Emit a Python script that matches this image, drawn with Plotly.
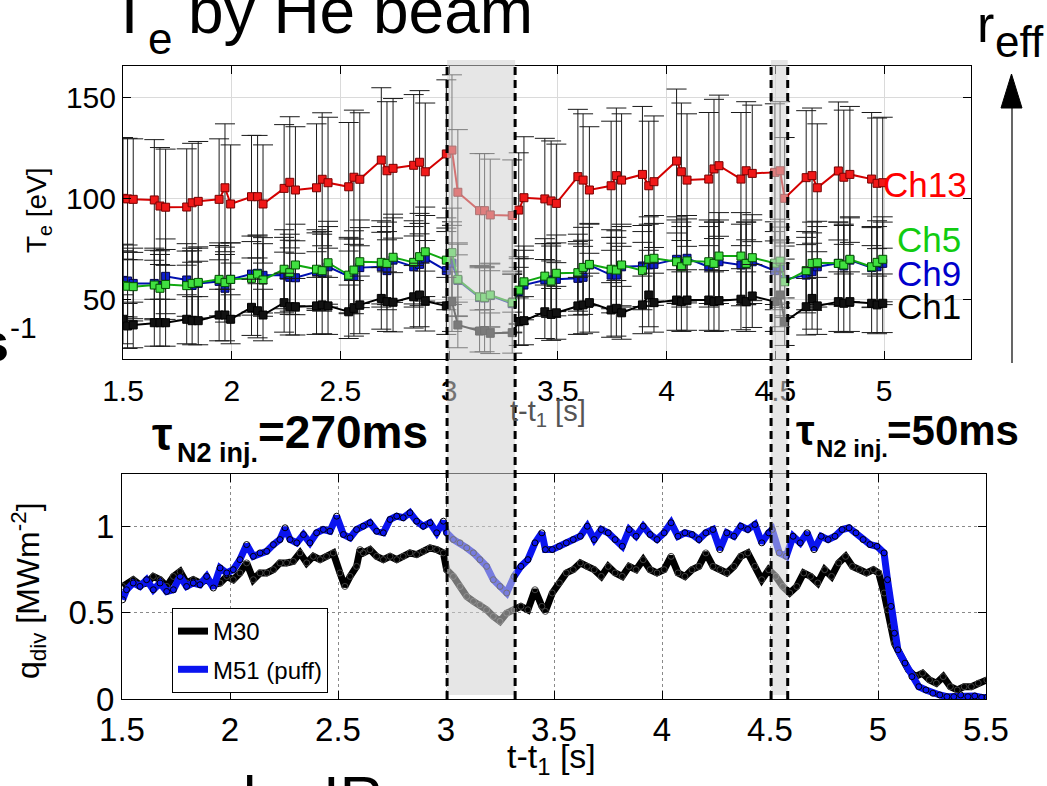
import plotly.graph_objects as go

W, H = 1047, 786


def PX(p):
    return p / W


def PY(p):
    return 1 - p / H


FONT = "Liberation Sans, Arial, Helvetica, sans-serif"

# ---------------- Top panel: Te by He beam ----------------
te_time = [1.500, 1.521, 1.547, 1.644, 1.670, 1.696, 1.793, 1.818, 1.846,
           1.942, 1.969, 1.995, 2.091, 2.119, 2.144, 2.241, 2.267, 2.293,
           2.390, 2.416, 2.443, 2.538, 2.562, 2.589, 2.688, 2.714, 2.742,
           2.837, 2.864, 2.890, 2.987, 3.013, 3.040, 3.140, 3.163, 3.189,
           3.290, 3.320, 3.344, 3.440, 3.469, 3.493, 3.592, 3.616, 3.645,
           3.745, 3.769, 3.793, 3.889, 3.918, 3.942, 4.046, 4.068, 4.094,
           4.194, 4.218, 4.241, 4.342, 4.366, 4.394, 4.498, 4.522, 4.543,
           4.642, 4.669, 4.693, 4.790, 4.815, 4.843, 4.943, 4.968, 4.994]

ch13 = [100.0, 99.7, 99.5, 99.2, 96.2, 95.6, 95.7, 97.8, 98.5,
        99.5, 105.2, 97.2, 100.8, 100.8, 97.2, 104.9, 107.9, 104.1,
        105.2, 109.4, 107.7, 105.7, 110.4, 109.4, 118.9, 113.6, 114.8,
        116.3, 117.8, 113.1, 121.9, 123.8, 103.0, 93.9, 93.9, 91.8,
        91.5, 94.2, 100.3, 99.7, 98.7, 97.5, 110.7, 109.0, 104.1,
        106.2, 111.2, 109.0, 111.8, 106.2, 108.2, 118.4, 113.1, 109.0,
        109.5, 114.5, 116.1, 109.5, 113.6, 112.3, 112.8, 113.6, 100.0,
        110.2, 111.2, 105.2, 113.5, 110.4, 111.8, 109.5, 107.4, 107.7]

ch5 = [57.0, 56.6, 56.4, 57.2, 55.6, 57.5, 56.9, 58.0, 58.5,
       60.0, 58.4, 60.0, 60.5, 62.6, 59.7, 65.0, 63.3, 67.1,
       65.0, 64.3, 68.2, 62.1, 64.6, 68.7, 68.4, 67.9, 70.9,
       68.4, 71.2, 73.6, 69.5, 73.2, 60.0, 51.4, 51.1, 52.3,
       48.5, 54.7, 58.8, 61.6, 58.8, 63.0, 63.3, 65.9, 67.4,
       65.0, 64.6, 67.1, 64.3, 69.9, 70.4, 68.7, 66.2, 69.1,
       68.7, 67.9, 71.5, 71.5, 67.9, 70.7, 68.0, 69.0, 58.8,
       64.3, 67.9, 68.2, 67.9, 67.1, 69.9, 66.2, 68.4, 69.9]

ch9 = [59.5, 59.2, 58.0, 58.0, 57.0, 61.5, 59.7, 57.0, 58.0,
       59.0, 55.6, 60.0, 62.6, 63.0, 62.0, 62.1, 61.0, 60.8,
       63.8, 63.3, 66.2, 61.5, 61.5, 65.8, 66.2, 64.3, 69.5,
       66.2, 67.4, 70.4, 64.3, 68.0, 59.5, 51.0, 50.8, 52.0,
       48.0, 54.0, 57.2, 59.7, 59.7, 60.0, 60.5, 61.0, 67.1,
       62.1, 62.1, 66.2, 66.6, 67.1, 67.4, 69.9, 67.9, 70.4,
       66.2, 67.9, 68.7, 67.1, 67.9, 68.7, 64.3, 66.0, 60.0,
       62.1, 63.8, 66.2, 67.9, 66.6, 69.5, 65.8, 66.2, 67.9]

ch1 = [40.3, 37.0, 37.5, 38.6, 38.6, 38.6, 40.3, 39.6, 39.6,
       42.4, 42.4, 40.3, 46.2, 44.5, 42.4, 48.5, 46.5, 46.5,
       46.9, 47.4, 46.9, 44.0, 45.7, 47.4, 50.6, 49.0, 48.7,
       51.4, 52.3, 49.3, 46.9, 49.0, 37.5, 34.5, 34.7, 33.4,
       33.7, 39.1, 39.6, 44.0, 42.7, 43.5, 46.9, 47.4, 48.5,
       44.9, 45.7, 43.5, 47.4, 52.3, 48.5, 49.8, 49.0, 49.8,
       49.8, 49.0, 49.5, 50.2, 49.0, 51.8, 49.0, 52.3, 39.1,
       46.5, 50.6, 46.9, 49.0, 48.2, 49.0, 48.2, 47.4, 48.2]

te_err_percent = 30  # relative uncertainty of He-beam Te

channel_names = ["Ch13", "Ch9", "Ch5", "Ch1"]
te_ticks = [50, 100, 150]
t_ticks_top = [1.5, 2, 2.5, 3, 3.5, 4, 4.5, 5]

# ---------------- Bottom panel: divertor heat flux ----------------
q_time_m51 = [1.503, 1.521, 1.552, 1.583, 1.614, 1.645, 1.676, 1.707, 1.738, 1.769,
              1.799, 1.830, 1.861, 1.892, 1.923, 1.954, 1.985, 2.015, 2.046, 2.077,
              2.108, 2.139, 2.170, 2.201, 2.231, 2.255, 2.278, 2.309, 2.340, 2.370,
              2.401, 2.432, 2.463, 2.494, 2.525, 2.556, 2.586, 2.617, 2.648, 2.679,
              2.710, 2.741, 2.772, 2.802, 2.833, 2.864, 2.895, 2.926, 2.957, 2.988,
              3.003, 3.034, 3.065, 3.096, 3.127, 3.157, 3.188, 3.219, 3.250, 3.281,
              3.315, 3.347, 3.379, 3.412, 3.444, 3.460, 3.492, 3.525, 3.557, 3.589,
              3.622, 3.654, 3.686, 3.719, 3.751, 3.783, 3.816, 3.848, 3.880, 3.913,
              3.945, 3.977, 4.010, 4.042, 4.074, 4.106, 4.139, 4.171, 4.203, 4.236,
              4.268, 4.300, 4.333, 4.365, 4.397, 4.430, 4.462, 4.494, 4.510, 4.543,
              4.575, 4.607, 4.640, 4.672, 4.704, 4.737, 4.769, 4.801, 4.834, 4.866,
              4.898, 4.931, 4.963, 4.995, 5.028, 5.044, 5.060, 5.076, 5.092, 5.125,
              5.157, 5.189, 5.222, 5.254, 5.286, 5.319, 5.351, 5.383, 5.416, 5.448,
              5.480, 5.504]
q_m51 = [0.575, 0.633, 0.672, 0.652, 0.691, 0.633, 0.672, 0.623, 0.633, 0.710,
         0.652, 0.672, 0.662, 0.710, 0.643, 0.759, 0.730, 0.749, 0.807, 0.894,
         0.826, 0.846, 0.855, 0.894, 0.923, 0.991, 0.923, 0.904, 0.952, 0.904,
         0.962, 0.981, 0.971, 1.058, 0.952, 0.933, 0.981, 1.000, 1.020, 0.971,
         0.962, 1.039, 1.058, 1.049, 1.078, 1.029, 1.000, 1.020, 0.962, 1.029,
         0.962, 0.923, 0.904, 0.875, 0.846, 0.807, 0.768, 0.691, 0.652, 0.614,
         0.710, 0.768, 0.807, 0.904, 0.962, 0.865, 0.865, 0.884, 0.904, 0.923,
         0.942, 1.000, 0.923, 0.981, 0.962, 0.923, 0.884, 0.981, 0.942, 1.000,
         0.952, 0.923, 0.962, 1.020, 0.942, 0.962, 0.952, 0.923, 0.962, 0.981,
         0.865, 0.962, 0.942, 1.000, 0.981, 1.010, 0.904, 0.962, 0.981, 0.846,
         0.826, 0.942, 0.904, 0.962, 0.865, 0.942, 0.923, 0.942, 0.981, 0.991,
         0.962, 0.923, 0.894, 0.884, 0.846, 0.691, 0.537, 0.382, 0.286, 0.209,
         0.131, 0.073, 0.054, 0.035, 0.025, 0.015, 0.015, 0.025, 0.015, 0.019,
         0.011, 0.011]

q_time_m30 = [1.503, 1.552, 1.583, 1.614, 1.645, 1.676, 1.707, 1.738, 1.769, 1.799,
              1.830, 1.861, 1.892, 1.923, 1.954, 1.985, 2.015, 2.046, 2.077, 2.108,
              2.139, 2.170, 2.201, 2.231, 2.262, 2.293, 2.324, 2.355, 2.386, 2.417,
              2.447, 2.478, 2.509, 2.532, 2.556, 2.586, 2.602, 2.617, 2.648, 2.679,
              2.710, 2.741, 2.772, 2.802, 2.833, 2.864, 2.895, 2.926, 2.957, 2.988,
              3.003, 3.034, 3.065, 3.096, 3.127, 3.157, 3.188, 3.219, 3.250, 3.281,
              3.315, 3.347, 3.379, 3.412, 3.444, 3.460, 3.492, 3.525, 3.557, 3.589,
              3.622, 3.654, 3.686, 3.719, 3.751, 3.783, 3.816, 3.848, 3.880, 3.913,
              3.945, 3.977, 4.010, 4.042, 4.074, 4.106, 4.139, 4.171, 4.203, 4.236,
              4.268, 4.300, 4.333, 4.365, 4.397, 4.430, 4.462, 4.494, 4.527, 4.559,
              4.591, 4.624, 4.656, 4.688, 4.721, 4.753, 4.785, 4.818, 4.850, 4.882,
              4.914, 4.947, 4.979, 5.003, 5.028, 5.044, 5.060, 5.076, 5.108, 5.141,
              5.173, 5.206, 5.238, 5.270, 5.302, 5.335, 5.367, 5.399, 5.432, 5.464,
              5.504]
q_m30 = [0.652, 0.691, 0.662, 0.672, 0.710, 0.691, 0.652, 0.710, 0.739, 0.672,
         0.691, 0.672, 0.691, 0.662, 0.672, 0.710, 0.691, 0.730, 0.788, 0.691,
         0.730, 0.730, 0.749, 0.788, 0.788, 0.797, 0.846, 0.788, 0.826, 0.807,
         0.826, 0.846, 0.730, 0.652, 0.710, 0.768, 0.865, 0.846, 0.865, 0.826,
         0.807, 0.826, 0.807, 0.826, 0.846, 0.836, 0.855, 0.875, 0.865, 0.846,
         0.749, 0.710, 0.652, 0.594, 0.566, 0.546, 0.517, 0.479, 0.450, 0.498,
         0.517, 0.537, 0.517, 0.633, 0.537, 0.508, 0.614, 0.672, 0.730, 0.749,
         0.788, 0.768, 0.749, 0.710, 0.768, 0.730, 0.710, 0.768, 0.749, 0.807,
         0.749, 0.730, 0.749, 0.826, 0.730, 0.710, 0.749, 0.768, 0.846, 0.768,
         0.749, 0.730, 0.768, 0.826, 0.846, 0.768, 0.691, 0.749, 0.710, 0.652,
         0.614, 0.652, 0.730, 0.710, 0.672, 0.749, 0.710, 0.788, 0.826, 0.768,
         0.749, 0.730, 0.749, 0.730, 0.614, 0.517, 0.421, 0.324, 0.247, 0.170,
         0.131, 0.151, 0.112, 0.093, 0.131, 0.073, 0.054, 0.073, 0.073, 0.093,
         0.112]

q_ticks = [0, 0.5, 1]
t_ticks_bot = [1.5, 2, 2.5, 3, 3.5, 4, 4.5, 5, 5.5]

# N2 injection windows (as drawn on the slide, in t - t1 [s])
inj_windows = [(3.005, 3.320), (4.505, 4.582)]

fig = go.Figure()

te_styles = {
    "Ch13": dict(line="#d40000", fill="#f01818", edge="#7a0000"),
    "Ch9": dict(line="#0010b0", fill="#1020d0", edge="#000050"),
    "Ch5": dict(line="#10a810", fill="#40e040", edge="#005000"),
    "Ch1": dict(line="#000000", fill="#111111", edge="#000000"),
}
te_data = {"Ch13": ch13, "Ch9": ch9, "Ch5": ch5, "Ch1": ch1}

for name in channel_names:
    st = te_styles[name]
    fig.add_trace(go.Scatter(
        x=te_time, y=te_data[name], mode="lines+markers", name=name,
        line=dict(color=st["line"], width=2),
        marker=dict(symbol="square", size=8, color=st["fill"],
                    line=dict(color=st["edge"], width=1)),
        error_y=dict(type="percent", value=te_err_percent, color="#1a1a1a",
                     thickness=1, width=10),
        xaxis="x", yaxis="y", showlegend=False, cliponaxis=True))

# bottom traces
fig.add_trace(go.Scatter(
    x=q_time_m30, y=q_m30, mode="lines+markers", name="M30",
    line=dict(color="black", width=7),
    marker=dict(symbol="circle-open", size=6, color="#444444",
                line=dict(color="#444444", width=1)),
    xaxis="x2", yaxis="y2", showlegend=False))
fig.add_trace(go.Scatter(
    x=q_time_m51, y=q_m51, mode="lines+markers", name="M51 (puff)",
    line=dict(color="#0a14f0", width=7),
    marker=dict(symbol="circle-open", size=6, color="black",
                line=dict(color="black", width=1)),
    xaxis="x2", yaxis="y2", showlegend=False))

# legend entries (line samples only)
fig.add_trace(go.Scatter(x=[None], y=[None], mode="lines", name="M30",
                         line=dict(color="black", width=7), xaxis="x2", yaxis="y2",
                         legendgroup="a"))
fig.add_trace(go.Scatter(x=[None], y=[None], mode="lines", name="M51 (puff)",
                         line=dict(color="#0a14f0", width=7), xaxis="x2", yaxis="y2",
                         legendgroup="b"))

axis_common = dict(showline=True, linecolor="black", linewidth=1, mirror="ticks",
                   ticks="inside", ticklen=8, tickcolor="black", zeroline=False,
                   automargin=False)

fig.update_layout(
    width=W, height=H, autosize=False,
    margin=dict(l=0, r=0, t=0, b=0, pad=0, autoexpand=False),
    paper_bgcolor="white", plot_bgcolor="white",
    font=dict(family=FONT, color="black"),
    xaxis=dict(domain=[PX(123), PX(971)], range=[1.5, 5.4], anchor="y",
               tickvals=t_ticks_top, showgrid=True, gridcolor="#dadada",
               ticklabelstandoff=5, **axis_common,
               tickfont=dict(family=FONT, color="black", size=30)),
    yaxis=dict(domain=[PY(359), PY(66)], range=[20.7, 165.3], anchor="x",
               tickvals=te_ticks, showgrid=True, gridcolor="#dadada",
               **axis_common,
               tickfont=dict(family=FONT, color="black", size=30)),
    xaxis2=dict(domain=[PX(122), PX(986)], range=[1.5, 5.5], anchor="y2",
                tickvals=t_ticks_bot, showgrid=True, gridcolor="#8a8a8a",
                griddash="dot", ticklabelstandoff=1, **axis_common,
                tickfont=dict(family=FONT, color="black", size=33)),
    yaxis2=dict(domain=[PY(699.3), PY(474.3)], range=[0, 1.3], anchor="x2",
                tickvals=q_ticks, ticktext=["0", "0.5", "1"], showgrid=True,
                gridcolor="#8a8a8a", griddash="dot", **axis_common,
                tickfont=dict(family=FONT, color="black", size=33)),
    legend=dict(x=PX(172), y=PY(608), xanchor="left", yanchor="top",
                bgcolor="white", bordercolor="black", borderwidth=1,
                font=dict(family=FONT, size=24, color="black"),
                tracegroupgap=4, itemwidth=30),
)

shapes = []
for (a, b) in inj_windows:
    shapes.append(dict(type="rect", xref="x2", yref="paper", x0=a, x1=b,
                       y0=PY(695), y1=PY(60), fillcolor="rgba(210,210,210,0.55)",
                       line=dict(width=0), layer="above"))
for (a, b) in inj_windows:
    for xv in (a, b):
        shapes.append(dict(type="line", xref="x2", yref="paper", x0=xv, x1=xv,
                           y0=PY(699), y1=PY(62),
                           line=dict(color="black", width=3, dash="8px,5px"),
                           layer="above"))
# r_eff arrow
shapes.append(dict(type="line", xref="paper", yref="paper", x0=PX(1012), x1=PX(1012),
                   y0=PY(363), y1=PY(106), line=dict(color="black", width=1.2)))
shapes.append(dict(type="path", xref="paper", yref="paper",
                   path=f"M {PX(1011.5)},{PY(74)} L {PX(1001)},{PY(108)} L {PX(1022)},{PY(108)} Z",
                   fillcolor="black", line=dict(color="black", width=1)))
fig.update_layout(shapes=shapes)


def ann(text, x, y, size, xanchor="left", yanchor="middle", color="black",
        bold=False, angle=0):
    return dict(text=text, x=PX(x), y=PY(y), xref="paper", yref="paper",
                xanchor=xanchor, yanchor=yanchor, showarrow=False,
                textangle=angle,
                font=dict(family=FONT, size=size, color=color,
                          weight="bold" if bold else "normal"))


annotations = [
    ann("T", 129.5, 10.8, 64, xanchor="center"),
    ann("e", 160, 38.5, 44, xanchor="center"),
    ann("by He beam", 186, 10.8, 64),
    ann("r", 975, 23.8, 52),
    ann("eff", 993, 41.6, 44),
    ann("Ch13", 881, 185, 35, color="#ff0000"),
    ann("Ch5", 895, 239.5, 35, color="#11cc11"),
    ann("Ch9", 895, 273.5, 35, color="#0000cc"),
    ann("Ch1", 895, 306, 35, color="black"),
    ann("T<sub>e</sub> [eV]", 38, 210, 28, xanchor="center", angle=-90),
    ann("q<sub>div</sub> [MWm<sup>-2</sup>]", 28, 591, 32, xanchor="center", angle=-90),
    ann("t-t<sub>1</sub> [s]", 548, 413, 29, xanchor="center", color="#555555"),
    ann("t-t<sub>1</sub> [s]", 552, 758, 34, xanchor="center"),
    ann("τ", 162, 434, 46, xanchor="center", bold=True),
    ann("N2 inj.", 175, 452.6, 27, bold=True),
    ann("=270ms", 256, 432, 46, bold=True),
    ann("τ", 805, 430.5, 42, xanchor="center", bold=True),
    ann("N2 inj.", 814, 448.7, 24, bold=True),
    ann("=50ms", 885, 430.3, 42, bold=True),
    ann("s", 11, 342, 54, xanchor="right", bold=True),
    ann("-1", 8, 327.5, 30),
    ann("by IR", 241, 797, 60),
]
fig.update_layout(annotations=annotations)

fig.write_html("out.html", config={"displayModeBar": False})
